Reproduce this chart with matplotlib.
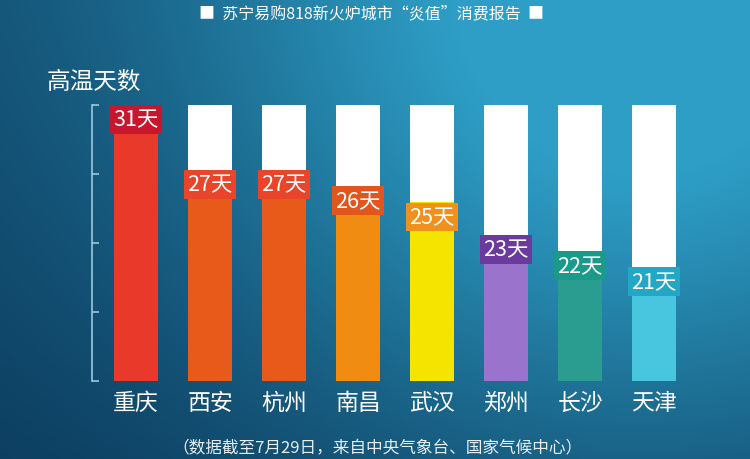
import numpy as np
import matplotlib
matplotlib.use('Agg')
import matplotlib.pyplot as plt
from matplotlib.colors import to_rgb

plt.rcParams['font.family'] = ['Noto Sans CJK SC', 'DejaVu Sans']

cities = ['重庆', '西安', '杭州', '南昌', '武汉', '郑州', '长沙', '天津']
days = [31, 27, 27, 26, 25, 23, 22, 21]
bar_colors = ['#e8392a', '#e85a1a', '#e85a1a', '#f08c12', '#f5e400',
              '#9a74cc', '#2a9c90', '#48c6e0']
box_colors = ['#c8162e', '#e8452a', '#e8452a', '#e0561c', '#f0901e',
              '#6a3a9c', '#1a9a8a', '#22a8c6']

title = '■  苏宁易购818新火炉城市“炎值”消费报告  ■'
ylabel = '高温天数'
footnote = '（数据截至7月29日，来自中央气象台、国家气候中心）'

W, H, dpi = 750, 460, 100
fig = plt.figure(figsize=(W / dpi, H / dpi), dpi=dpi)

# background: dark navy with a lighter glow at the top right
bg = fig.add_axes([0, 0, 1, 1])
yy, xx = np.mgrid[0:H, 0:W]
d2 = (xx - 640) ** 2 + (yy - 30) ** 2
t = np.exp(-d2 / (2 * 320.0 ** 2))
t = np.clip(t + 0.16 * (1 - yy / H), 0, 1)[..., None]
base = np.array(to_rgb('#0b3a5c'))
spot = np.array(to_rgb('#2e9ec6'))
img = base * (1 - t) + spot * t
bg.imshow(img, aspect='auto', extent=[0, W, H, 0])
bg.set_axis_off()

ax = fig.add_axes([92 / W, 78 / H, 608 / W, 276 / H])
ax.set_facecolor('none')
x = np.arange(len(cities))
ymin, ymax = 14, 31
ax.set_xlim(-0.595, 7.62)
ax.set_ylim(ymin, ymax)

ax.bar(x, [ymax - ymin] * len(x), bottom=ymin, width=0.6, color='white', zorder=1)
ax.bar(x, np.array(days) - ymin, bottom=ymin, width=0.6, color=bar_colors, zorder=2)

# value tags sit on top of each coloured bar
for xi, v, bc in zip(x, days, box_colors):
    ax.text(xi, v - 0.22, f'{v}天', ha='center', va='top', color='white',
            fontsize=15.5, zorder=4, linespacing=1.0,
            bbox=dict(boxstyle='square,pad=0.16', fc=bc, ec='none'))

for s in ['top', 'right', 'bottom']:
    ax.spines[s].set_visible(False)
ax.spines['left'].set_color('#9cc8dc')
ax.spines['left'].set_linewidth(1.2)
ax.set_yticks(np.linspace(ymin, ymax, 5))
ax.tick_params(axis='y', direction='in', length=5, width=1.2,
               color='#9cc8dc', labelleft=False)
ax.set_xticks(x)
ax.set_xticklabels(cities, color='white', fontsize=16.5)
ax.tick_params(axis='x', length=0, pad=7)

fig.text(0.495, 1 - 14 / H, title, ha='center', va='center', color='white', fontsize=11.5)
fig.text(47 / W, 1 - 82 / H, ylabel, ha='left', va='center', color='white', fontsize=17)
fig.text(0.503, 1 - 449 / H, footnote, ha='center', va='center', color='#e6eef2', fontsize=12)

fig.savefig('out.png', dpi=dpi)
